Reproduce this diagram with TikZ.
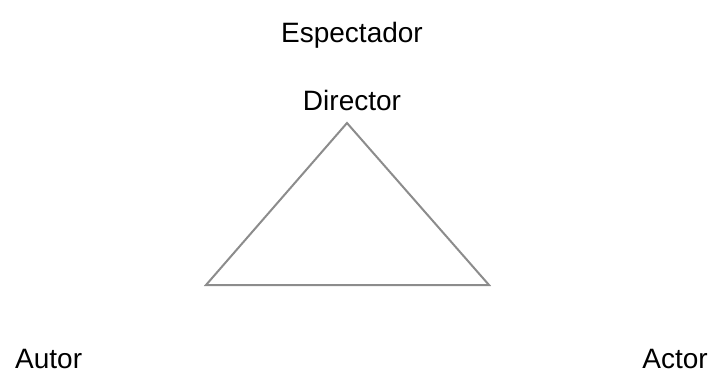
\documentclass[tikz,border=0pt]{standalone}
\usepackage{fontspec}
\setmainfont{Liberation Sans}
\tikzset{
  lbl/.style={inner sep=0pt, font=\fontsize{28}{32}\selectfont, text=black},
  edge/.style={draw=black!45, line width=2pt, line join=miter}
}
\begin{document}
\begin{tikzpicture}[x=1pt,y=-1pt]
\useasboundingbox (0,0) rectangle (712,376);
\coordinate (top) at (347,123);
\coordinate (bl) at (206,285);
\coordinate (br) at (489,285);
\draw[edge] (top) -- (bl) -- (br) -- cycle;
\node[lbl, anchor=base] (esp) at (352,42) {Espectador};
\node[lbl, anchor=base] (dir) at (352,110) {Director};
\node[lbl, anchor=base west] (aut) at (15,368) {Autor};
\node[lbl, anchor=base east] (act) at (708,368) {Actor};
\end{tikzpicture}
\end{document}
